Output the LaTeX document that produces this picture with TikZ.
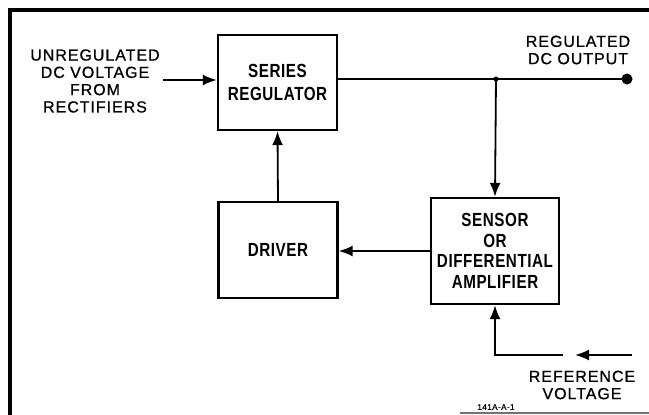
\documentclass[tikz,border=0pt]{standalone}
\usepackage{fontspec}
\setmainfont{Liberation Sans}
\newfontfamily\blockfont[FakeStretch=0.8,LetterSpace=3]{Liberation Sans Bold}
\newfontfamily\labelfont[FakeBold=0.8,LetterSpace=6]{Liberation Sans}
\usetikzlibrary{arrows.meta,positioning,calc}
\tikzset{
  blockbox/.style={draw, line width=2.4pt, minimum width=119pt, minimum height=95pt,
    align=center, inner sep=0pt, font=\blockfont\fontsize{19}{20.5}\selectfont},
  sigtext/.style={align=center, inner sep=0pt, font=\labelfont\fontsize{16}{17.3}\selectfont},
  wire/.style={line width=1.8pt},
}

\begin{document}
\begin{tikzpicture}[>={Latex[length=14pt,width=11pt]}, x=1pt, y=-1pt]
  \useasboundingbox (0,0) rectangle (649,415);
  \draw[line width=3.5pt] (10,415) -- (10,10) -- (649,10);
  \draw[line width=1.2pt, black!55] (460,413) -- (649,413);

  \node[blockbox] (series) at (277.5,82.5) {SERIES\\[3pt]REGULATOR};
  \node[blockbox, minimum height=96pt] (driver) at (278,250) {DRIVER};
  \node[blockbox, minimum width=128pt, minimum height=106pt] (sensor) at (495,251)
    {SENSOR\\OR\\DIFFERENTIAL\\AMPLIFIER};

  \node[sigtext] (unreg) at (95,81) {UNREGULATED\\DC VOLTAGE\\FROM\\RECTIFIERS};
  \node[sigtext] (outlbl) at (578,50) {REGULATED\\DC OUTPUT};
  \node[sigtext] (reflbl) at (582,385) {REFERENCE\\VOLTAGE};
  \node[font=\labelfont\fontsize{8}{9}\selectfont, inner sep=0pt] (fignum) at (496,407) {141A-A-1};

  \coordinate (jn) at (496,79);
  \coordinate (out) at (627,79);
  \coordinate (refin) at (632,355);
  \coordinate (reftip) at (575,355);
  \coordinate (refgap) at (563,355);

  \draw[wire,->] (163,80) -- (series.west |- 163,80);
  \draw[wire] (series.east |- jn) -- (out);
  \fill (jn) circle (2.5pt);
  \fill (out) circle (5.5pt);
  \draw[wire,->] (jn) -- (sensor.north);
  \draw[wire,->] (sensor.west) -- (sensor.west -| driver.east);
  \draw[wire,->] (driver.north) -- (series.south);
  \draw[wire,->] (refin) -- (reftip);
  \draw[wire,->] (refgap) -| (sensor.south);
\end{tikzpicture}
\end{document}
